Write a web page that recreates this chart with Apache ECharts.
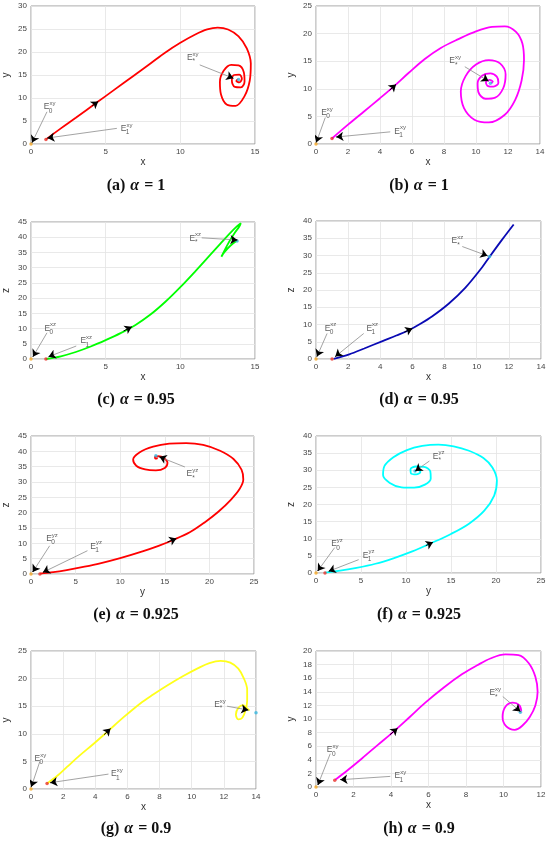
<!DOCTYPE html>
<html>
<head>
<meta charset="utf-8">
<script src="https://cdn.jsdelivr.net/npm/echarts@6/dist/echarts.min.js"></script>
<style>
html, body { margin: 0; padding: 0; background: #fff; }
#main { width: 550px; height: 841px; }
</style>
</head>
<body>
<div id="main"></div>
<script>
// trajectories, one per panel
var curveA = [[1,1],[2,3.4],[3,5.7],[4.4,9],[5.5,11.6],[6.9,14.9],[8,17.5],[9,19.9],[10,22],[11,23.8],[11.8,24.9],[12.5,25.3],[13.2,24.9],[13.9,23.4],[14.45,20.8],[14.72,17.5],[14.65,13.8],[14.3,10.4],[13.7,8.3],[13.1,8.6],[12.72,10.8],[12.65,13.5],[12.9,15.9],[13.4,17.2],[13.9,17.1],[14.25,15.6],[14.3,13.6],[14.05,12.3],[13.65,12.4],[13.45,13.8],[13.6,15],[13.95,15.1],[14.12,14.2],[13.95,13.4],[13.75,13.7],[13.85,14.1]];
var curveB = [[1,1],[2,3.5],[3,5.9],[4,8.3],[4.85,10.4],[5.8,12.9],[6.8,15.4],[7.8,17.4],[8.9,19.0],[10,20.4],[11,21.2],[11.8,21.3],[12.5,20.3],[12.9,18.2],[13,15.2],[12.85,11.5],[12.45,8],[11.8,5.3],[10.8,3.9],[9.9,4.4],[9.25,6.5],[9.05,9.5],[9.35,12.3],[10,14.4],[10.8,15.2],[11.5,14.6],[11.85,12.6],[11.7,10.1],[11.2,8.4],[10.6,8.2],[10.15,9.4],[10.1,11],[10.4,12.4],[10.9,12.8],[11.3,12.2],[11.4,11.1],[11.1,10.4],[10.75,10.5],[10.62,11.2],[10.85,11.6],[11.05,11.3],[10.95,11]];
var curveC = [[1,0],[2,0.9],[3,2.3],[4,4.1],[5,6.2],[6,8.5],[7,11.2],[8,14.6],[9,18.8],[10,23.6],[11,28.8],[12,34.2],[12.7,38],[13.3,41.2],[13.75,43.4],[14.05,44.6],[13.95,43.5],[13.67,41.6],[13.2,37.9],[12.75,33.6],[12.95,35.1],[13.35,37.2],[13.8,38.9]];
var curveD = [[1.1,0.05],[2.07,1.35],[3,3.05],[4.14,5.2],[5,6.8],[5.8,8.4],[6.5,10.2],[7.24,12.4],[8.27,16.1],[9.3,20.7],[10.34,26.6],[10.75,29.3],[11.58,34.6],[12.3,39]];
var curveE = [[1,0.1],[2.5,0.6],[4,1.3],[6,2.4],[7.75,3.5],[10,5.2],[12.5,7.4],[14.3,9.2],[15.95,11.1],[17.8,13.6],[19.5,16.9],[21,20.3],[22.4,24.2],[23.4,27.8],[23.8,30.8],[23.6,34],[22.7,37.5],[21.2,40.2],[19.3,42.1],[17.4,42.7],[15.5,42.5],[13.7,41.5],[12.2,39.7],[11.45,37.3],[11.8,35.3],[12.8,34.1],[14,33.8],[15,34.6],[15.3,36.3],[14.9,37.8],[14.3,38.4],[13.9,38.1],[13.95,37.6],[14.2,37.8]];
var curveF = [[1,0.1],[2.5,0.6],[4.5,1.5],[6.6,2.7],[8.6,4.3],[10.7,6.3],[12.7,8.6],[15,11.4],[17,14.4],[18.7,18.2],[19.8,22.6],[20.1,27],[19.6,30.8],[18.6,33.6],[17,35.7],[15.3,37],[13.6,37.5],[11.8,37.1],[10.1,35.9],[8.6,33.8],[7.6,31.2],[7.45,28.6],[8.2,26.3],[9.5,25],[10.9,24.9],[12.1,25.8],[12.75,27.6],[12.7,29.7],[12,31],[11.1,31.1],[10.5,30.3],[10.55,29.1],[11.15,28.8],[11.6,29.5],[11.35,30.1],[11,29.8]];
var curveG = [[1,1],[1.6,2.3],[2.24,4],[3,6],[3.9,8.2],[4.76,10.4],[5.8,13.1],[6.8,15.5],[7.6,17.1],[8.45,18.7],[9.5,20.5],[10.4,21.9],[11.1,22.8],[11.8,23.2],[12.4,22.9],[12.9,21.8],[13.25,20],[13.45,18],[13.45,16],[13.35,14.3],[13.15,12.9],[12.9,12.6],[12.75,13.5],[12.9,14.7],[13.2,15.2],[13.42,14.7],[13.6,14.2]];
var curveH = [[1.03,1.07],[1.7,2.5],[2.45,4.2],[3.3,6.2],[4.14,8.15],[5,10.3],[5.83,12.4],[6.8,14.6],[7.8,16.6],[8.6,17.9],[9.3,18.9],[10.1,19.5],[10.8,19.4],[11.35,18.2],[11.7,16.2],[11.82,14],[11.7,12],[11.4,10.3],[11,9],[10.6,8.4],[10.15,8.9],[9.95,10.3],[10.1,11.8],[10.5,12.4],[10.85,12],[10.95,11.1]];

// equilibrium points E0, E1, E* per panel
var equilibria = [
  [[0,0],[1,1],[13.9,14]],
  [[0,0],[1,1],[10.9,11]],
  [[0,0],[1,0],[13.8,38.8]],
  [[0,0],[1,0],[10.8,29.7]],
  [[0,0],[1,0],[14,38.6]],
  [[0,0],[1,0],[11,29.8]],
  [[0,0],[1,1],[14,13.8]],
  [[0,0],[1,1],[10.9,11]]
];

// axis [max, interval]
var axisX = [[15,5],[14,2],[15,5],[14,2],[25,5],[25,5],[14,2],[12,2]];
var axisY = [[30,5],[25,5],[45,5],[40,5],[45,5],[40,5],[25,5],[20,2]];
var namesX = ['x','x','x','x','y','y','x','x'];
var namesY = ['y','y','z','z','z','z','y','y'];
var letters = ['(a)','(b)','(c)','(d)','(e)','(f)','(g)','(h)'];
var alphas = ['1','1','0.95','0.95','0.925','0.925','0.9','0.9'];
var planes = ['xy','xy','xz','xz','yz','yz','xy','xy'];
var subs = ['0','1','*'];

// annotation layout: label spot, arrow start, arrow tip (data units)
var notes = [
  [[[1.25,8.3],[1.07,7.0],[0.07,0.3]], [[6.4,3.6],[5.75,3.4],[1.1,1.3]], [[10.83,19],[11.3,17.2],[13.55,14.3]]],
  [[[0.69,5.9],[0.58,4.8],[0.02,0.3]], [[5.26,2.5],[4.64,2.2],[1.27,1.27]], [[8.7,15.2],[9.3,14],[10.78,11.4]]],
  [[[1.29,10.4],[1.07,8.6],[0.13,0.76]], [[3.7,6.2],[3.03,4.26],[1.18,0.76]], [[11,40],[11.43,39.8],[13.82,39.1]]],
  [[[0.9,9.2],[0.69,7.4],[0.06,0.7]], [[3.5,9.2],[2.97,7.4],[1.2,0.7]], [[8.8,34.5],[9.1,32.6],[10.67,29.9]]],
  [[[2.35,11.9],[2.09,9.2],[0.19,0.65]], [[7.3,9.4],[6.33,7.6],[1.34,0.54]], [[18.1,33],[17.25,34.9],[14.4,38.2]]],
  [[[2.33,8.76],[2.07,7.4],[0.19,0.58]], [[5.85,5.45],[4.74,3.9],[1.41,0.5]], [[13.63,34.4],[12.6,32.7],[11.04,29.8]]],
  [[[0.58,5.7],[0.54,4.9],[0.02,0.4]], [[5.34,2.95],[4.82,2.7],[1.2,1.14]], [[11.76,15.5],[12.2,15.0],[13.52,14.3]]],
  [[[0.89,5.6],[0.76,4.9],[0.1,0.3]], [[4.5,1.8],[3.96,1.56],[1.3,1.07]], [[9.56,14],[9.96,13.3],[10.9,11.1]]]
];

// direction arrows along each trajectory [tail, head]
var flowArrows = [
  [[4.1,8.3],[4.5,9.25]],
  [[4.6,9.75],[5.0,10.8]],
  [[6.2,9.2],[6.75,10.6]],
  [[5.5,7.8],[6.0,8.85]],
  [[15.3,10.4],[16.3,11.6]],
  [[12.2,8.0],[13.0,8.95]],
  [[4.55,9.85],[4.95,10.95]],
  [[3.95,7.7],[4.35,8.65]]
];

var curves = [curveA, curveB, curveC, curveD, curveE, curveF, curveG, curveH];
var colors = ['#ff0000','#ff00ff','#00ff00','#0a0ab4','#ff0000','#00ffff','#ffff1a','#ff00ff'];
var grids = [
  [31,6,224,138],[316,6,224,138],
  [31,222,224,137],[316,221,225,138],
  [31,436,223,138],[316,436,225,137],
  [31,651,225,138],[316,651,225,136]
];
var captionX = [131,414];
var captionY = [172,386,601,815];
var eqColors = ['#f5a623','#e8322a','#36b6e0'];

function headStart(p, from, to) {
  var g = grids[p];
  var dx = (to[0] - from[0]) / axisX[p][0] * g[2];
  var dy = (to[1] - from[1]) / axisY[p][0] * g[3];
  var k = Math.min(1, 5 / Math.sqrt(dx * dx + dy * dy));
  return [to[0] - (to[0] - from[0]) * k, to[1] - (to[1] - from[1]) * k];
}

var labelRich = {
  e: { fontSize: 8.5, color: '#333', fontFamily: 'Liberation Sans', verticalAlign: 'bottom', lineHeight: 11 },
  s: { fontSize: 6, color: '#333', fontFamily: 'Liberation Sans', verticalAlign: 'top', lineHeight: 11 },
  u: { fontSize: 6.5, color: '#333', fontFamily: 'Liberation Sans' }
};

var gridOpt = [], xAxes = [], yAxes = [], series = [], titles = [];

for (var p = 0; p < 8; p++) {
  var g = grids[p];
  gridOpt.push({ left: g[0], top: g[1], width: g[2], height: g[3], show: true,
    borderColor: '#9a9a9a', borderWidth: 1, backgroundColor: '#fff' });
  var axisCommon = {
    gridIndex: p, type: 'value', min: 0,
    nameLocation: 'middle',
    nameTextStyle: { fontSize: 10, color: '#333', fontFamily: 'Liberation Sans' },
    axisLine: { show: false }, axisTick: { show: false },
    axisLabel: { fontSize: 8, color: '#444', fontFamily: 'Liberation Sans', margin: 4 },
    splitLine: { lineStyle: { color: '#e3e3e3', width: 0.8 } }
  };
  xAxes.push(Object.assign({}, axisCommon, { max: axisX[p][0], interval: axisX[p][1], name: namesX[p], nameGap: 11 }));
  yAxes.push(Object.assign({}, axisCommon, { max: axisY[p][0], interval: axisY[p][1], name: namesY[p], nameGap: 20 }));

  var ax = { xAxisIndex: p, yAxisIndex: p };

  series.push(Object.assign({ type: 'line', data: curves[p], showSymbol: false, smooth: 0.35,
    lineStyle: { color: colors[p], width: 1.8 }, z: 3, silent: true }, ax));

  series.push(Object.assign({ type: 'scatter', symbolSize: 3.5, z: 4, silent: true,
    data: equilibria[p].map(function (pt, i) { return { value: pt, itemStyle: { color: eqColors[i] } }; }) }, ax));

  var grey = [], heads = [], labels = [];
  notes[p].forEach(function (n, i) {
    grey.push({ coords: [n[1], n[2]] });
    heads.push({ coords: [headStart(p, n[1], n[2]), n[2]] });
    labels.push({ value: n[0], label: { formatter: '{e|E}{s|' + planes[p] + '}' } });
    labels.push({ value: n[0], label: { formatter: '{u|' + subs[i] + '}', offset: [1, 5] } });
  });

  series.push(Object.assign({ type: 'lines', coordinateSystem: 'cartesian2d', data: grey, z: 5, silent: true,
    lineStyle: { color: '#8c8c8c', width: 0.8, opacity: 1 } }, ax));
  series.push(Object.assign({ type: 'lines', coordinateSystem: 'cartesian2d', z: 6, silent: true,
    data: heads.concat([{ coords: flowArrows[p] }]),
    symbol: ['none', 'arrow'], symbolSize: 7,
    lineStyle: { color: '#000', width: 1, opacity: 1 } }, ax));
  series.push(Object.assign({ type: 'scatter', symbolSize: 1, z: 7, silent: true,
    itemStyle: { color: 'rgba(0,0,0,0)' },
    label: { show: true, position: 'inside', rich: labelRich },
    data: labels }, ax));

  titles.push({
    text: '{b|' + letters[p] + '} {i|α} {n|= ' + alphas[p] + '}',
    left: captionX[p % 2], top: captionY[Math.floor(p / 2)], textAlign: 'center',
    textStyle: {
      rich: {
        b: { fontSize: 16, fontWeight: 'bold', fontFamily: 'Liberation Serif', color: '#111' },
        i: { fontSize: 16, fontStyle: 'italic', fontFamily: 'Liberation Serif', color: '#111' },
        n: { fontSize: 16, fontFamily: 'Liberation Serif', color: '#111' }
      }
    }
  });
}

var chart = echarts.init(document.getElementById('main'));
chart.setOption({
  animation: false,
  backgroundColor: '#fff',
  title: titles,
  grid: gridOpt,
  xAxis: xAxes,
  yAxis: yAxes,
  series: series
});
</script>
</body>
</html>
